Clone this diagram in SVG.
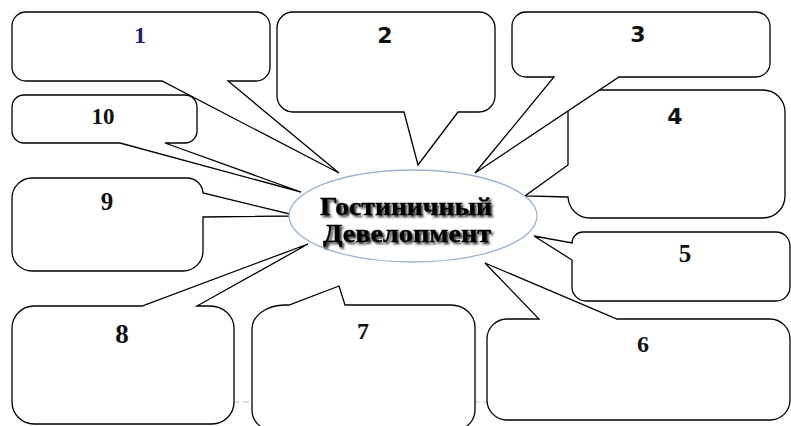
<svg xmlns="http://www.w3.org/2000/svg" width="791" height="426" viewBox="0 0 791 426">
<style>
.box{fill:#fff;stroke:#000;stroke-width:1.3;stroke-linejoin:miter}
.ns{font-family:"Liberation Serif","Times New Roman",serif;font-weight:bold;fill:#111;text-anchor:middle}
.nv{font-family:"DejaVu Sans",Verdana,sans-serif;font-weight:bold;fill:#111;text-anchor:middle}
.title{font-family:"Liberation Serif","Times New Roman",serif;font-weight:bold;font-size:26px;fill:#000;text-anchor:middle;stroke:#000;stroke-width:0.4}
</style>
<defs>
<filter id="sh" x="-10%" y="-30%" width="120%" height="160%">
<feGaussianBlur in="SourceAlpha" stdDeviation="1.3" result="b"/>
<feOffset in="b" dx="1.5" dy="1.8" result="o"/>
<feFlood flood-color="#333"/>
<feComposite in2="o" operator="in" result="s"/>
<feMerge><feMergeNode in="s"/><feMergeNode in="SourceGraphic"/></feMerge>
</filter>
</defs>
<rect width="791" height="426" fill="#fff"/>
<line x1="233" y1="402" x2="490" y2="402" stroke="#a9c4e0" stroke-width="1" stroke-dasharray="6 4"/>
<g id="connectors"></g>
<g id="node4">
<path class="box" d="M590,90 H763 A22,22 0 0 1 785,112 V196 A22,22 0 0 1 763,218 H590 A22,22 0 0 1 568,197 L525,196 L568,165 V112 A22,22 0 0 1 590,90 Z"/>
<text class="nv" x="675" y="124" font-size="22">4</text>
</g>
<g id="node1">
<path class="box" d="M26,12 H256 A14,14 0 0 1 270,26 V67 A14,14 0 0 1 256,81 H228 L339,173 L162,81 H26 A14,14 0 0 1 12,67 V26 A14,14 0 0 1 26,12 Z"/>
<text class="ns" x="140" y="43" font-size="24" style="fill:#1f1f78">1</text>
</g>
<g id="node2">
<path class="box" d="M293,12 H479 A16,16 0 0 1 495,28 V96 A16,16 0 0 1 479,112 H458 L418,165 L404,112 H293 A16,16 0 0 1 277,96 V28 A16,16 0 0 1 293,12 Z"/>
<text class="nv" x="385" y="43" font-size="22">2</text>
</g>
<g id="node3">
<path class="box" d="M526,12 H756 A14,14 0 0 1 770,26 V63 A14,14 0 0 1 756,77 H619 L475,173 L554,77 H526 A14,14 0 0 1 512,63 V26 A14,14 0 0 1 526,12 Z"/>
<text class="nv" x="638" y="42" font-size="22">3</text>
</g>
<g id="node10">
<path class="box" d="M24,95 H185 A12,12 0 0 1 197,107 V131 A12,12 0 0 1 185,143 H165 L301,192 L120,143 H24 A12,12 0 0 1 12,131 V107 A12,12 0 0 1 24,95 Z"/>
<text class="ns" x="103" y="124" font-size="23">10</text>
</g>
<g id="node9">
<path class="box" d="M32,178 H187 A16,16 0 0 1 203,193 L298,216 L203,217 V251 A20,20 0 0 1 183,271 H32 A20,20 0 0 1 12,251 V198 A20,20 0 0 1 32,178 Z"/>
<text class="ns" x="107" y="210" font-size="25">9</text>
</g>
<g id="node5">
<path class="box" d="M583,232 H776 A14,14 0 0 1 790,246 V287 A14,14 0 0 1 776,301 H586 A14,14 0 0 1 572,287 V260 L534,236 L572,243 A11,11 0 0 1 583,232 Z"/>
<text class="ns" x="685" y="262" font-size="25">5</text>
</g>
<g id="node6">
<path class="box" d="M507,319 H539 L485,263 L617,319 H770 A20,20 0 0 1 790,339 V400 A20,20 0 0 1 770,420 H507 A20,20 0 0 1 487,400 V339 A20,20 0 0 1 507,319 Z"/>
<text class="ns" x="643" y="352" font-size="24">6</text>
</g>
<g id="node8">
<path class="box" d="M34,306 H142 L308,244 L197,306 H210 A24,22 0 0 1 234,328 V402 A22,22 0 0 1 212,424 H34 A22,22 0 0 1 12,402 V328 A22,22 0 0 1 34,306 Z"/>
<text class="ns" x="122" y="343" font-size="27">8</text>
</g>
<g id="node7">
<path class="box" d="M285,305 H289 L339,286 L345,305 H451 A24,22 0 0 1 475,327 V410 A20,20 0 0 1 455,430 H272 A20,20 0 0 1 252,410 V329 A33,24 0 0 1 285,305 Z"/>
<text class="ns" x="363" y="339" font-size="24">7</text>
</g>
<g id="center">
<ellipse cx="413" cy="216" rx="124" ry="46" fill="#fff" stroke="#9ab4cf" stroke-width="1.3"/>
<g filter="url(#sh)">
<text class="title" x="406" y="215" textLength="172" lengthAdjust="spacingAndGlyphs">Гостиничный</text>
<text class="title" x="407" y="242" textLength="168" lengthAdjust="spacingAndGlyphs">Девелопмент</text>
</g>
</g>
</svg>
